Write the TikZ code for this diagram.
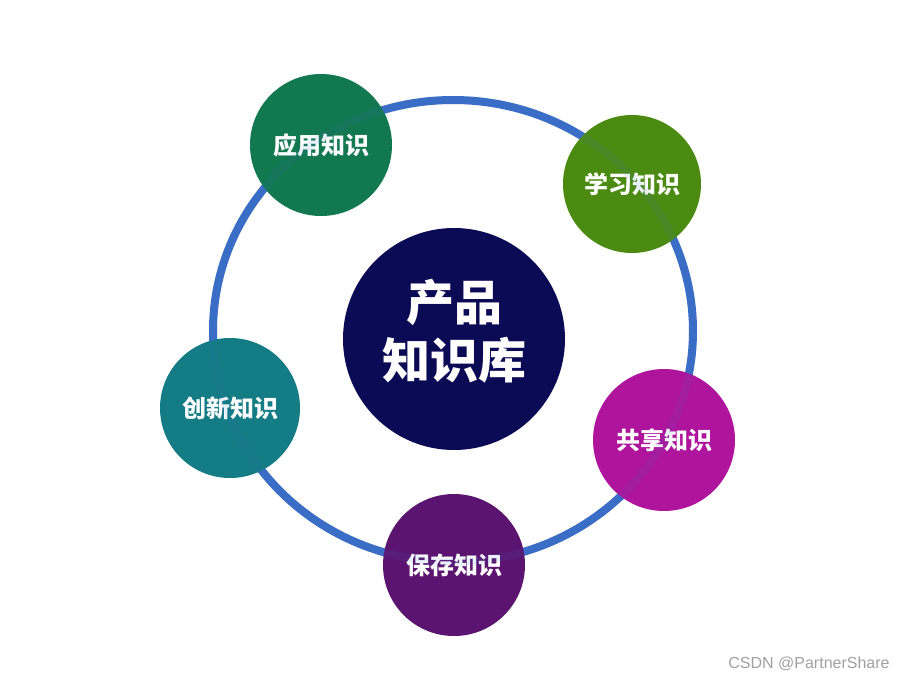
\documentclass[tikz,border=0pt]{standalone}
\usepackage{fontspec}
\setmainfont{Liberation Sans}
\newfontfamily\cjk{Noto Sans CJK SC}
\usepackage{tikz}
\usetikzlibrary{positioning}

\definecolor{ring_blue}{HTML}{3A6EC6}
\definecolor{core_navy}{HTML}{0B0A55}
\definecolor{apply_green}{HTML}{127850}
\definecolor{learn_green}{HTML}{4B8B12}
\definecolor{create_teal}{HTML}{137C85}
\definecolor{share_magenta}{HTML}{AE149C}
\definecolor{keep_purple}{HTML}{5B146F}
\definecolor{mark_gray}{HTML}{A0A0A0}

\begin{document}
\begin{tikzpicture}[
        x=1pt, y=-1pt,
        ring_style/.style={
            draw=ring_blue,
            line width=8pt
        },
        knowledge_box/.style={
            circle,
            minimum size=142pt,
            inner sep=0pt,
            text=white,
            font=\cjk\bfseries\fontsize{24}{28}\selectfont
        },
        core_box/.style={
            circle,
            fill=core_navy,
            minimum size=222pt,
            inner sep=0pt
        },
        core_text/.style={
            text=white,
            align=center,
            inner sep=0pt,
            font=\cjk\bfseries\fontsize{48}{58}\selectfont
        }
    ]
        \fill[white] (0,0) rectangle (908,681);
        \useasboundingbox (0,0) rectangle (908,681);
        \coordinate (hub) at (453,331);
        \draw[ring_style] (hub) ellipse [x radius=240pt, y radius=231pt];
        \node[core_box] (core) at (454,339) {};
        \node[core_text, yshift=8pt] (core_label) at (core.center) {产品\\知识库};
        \node[knowledge_box, fill=apply_green] (apply) at (321,145) {应用知识};
        \node[knowledge_box, fill=learn_green, minimum size=138pt] (learn) at (632,184) {学习知识};
        \node[knowledge_box, fill=share_magenta] (share) at (664,440) {共享知识};
        \node[knowledge_box, fill=keep_purple] (keep) at (454,565) {保存知识};
        \node[knowledge_box, fill=create_teal, minimum size=140pt] (create) at (230,408) {创新知识};
        % faint ring showing through the circles
        \draw[ring_style, draw opacity=0.1] (hub) ellipse [x radius=240pt, y radius=231pt];
        \node[text=mark_gray, font=\fontsize{16}{19}\selectfont] (mark) at (809,664) {CSDN @PartnerShare};
    \end{tikzpicture}
\end{document}
